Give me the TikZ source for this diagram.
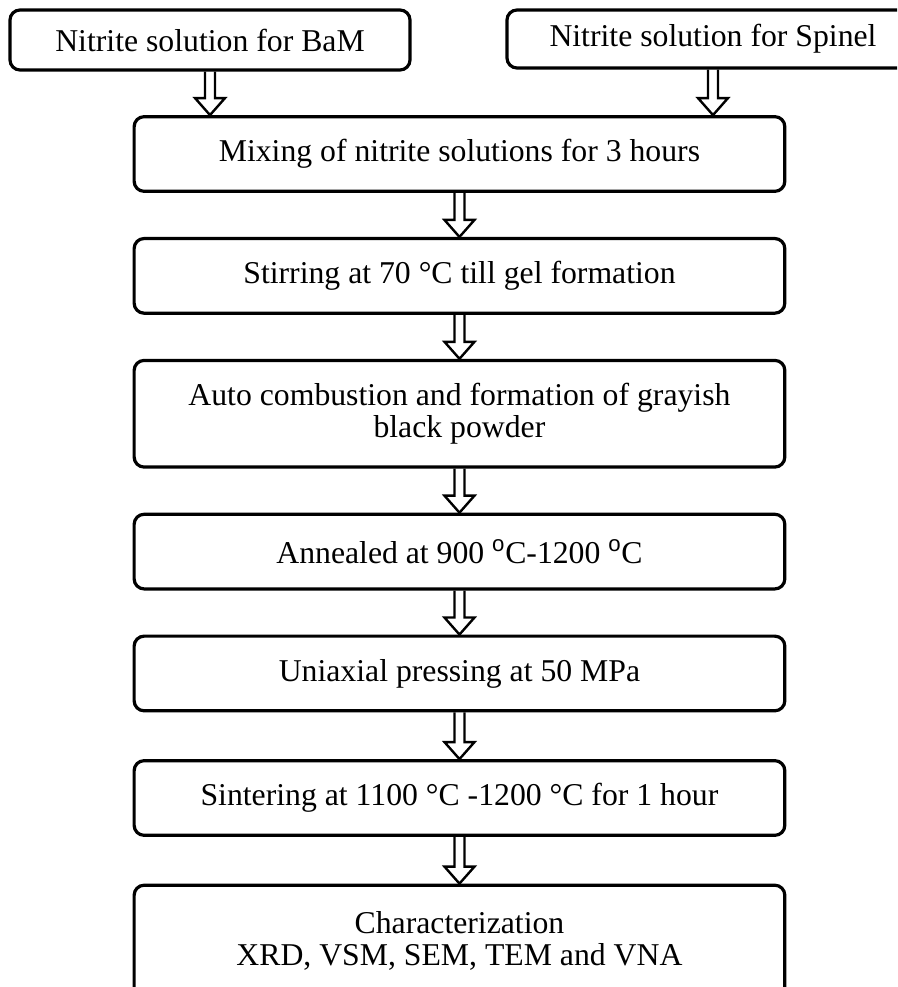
\documentclass[tikz,border=0pt]{standalone}
\usepackage{fontspec}
\setmainfont{Liberation Serif}
\setsansfont{Liberation Sans}
\usetikzlibrary{positioning,calc}

\newcommand{\degsup}{\textsuperscript{\sffamily o}}

\tikzset{
    stepbox/.style={draw, rounded corners=7.5pt, line width=2.4pt,
        minimum width=488pt, minimum height=56pt, inner sep=2pt,
        align=center, font=\fontsize{23.8}{24}\selectfont},
    flow/.style={line width=1.8pt, miter limit=20,
        to path={let \p1=(\tikztostart), \p2=(\tikztotarget) in
            (\x1-3.75pt,\y1) -- (\x1-3.75pt,\y2+12.75pt) -- (\x1-11.25pt,\y2+12.75pt)
            -- (\x1,\y2) -- (\x1+11.25pt,\y2+12.75pt) -- (\x1+3.75pt,\y2+12.75pt)
            -- (\x1+3.75pt,\y1)}}
}

\begin{document}
\begin{tikzpicture}
    \useasboundingbox (0,0) rectangle (672.75pt,-740.25pt);
    \clip (0,0) rectangle (672.75pt,-740.25pt);

    % le due soluzioni di partenza
    \node[stepbox, minimum width=300pt, minimum height=45pt] (bam) at (157.5pt,-30pt) {Nitrite solution for BaM};
    \node[stepbox, minimum width=309pt, minimum height=43.5pt] (spinel) at (534.75pt,-29.25pt) {Nitrite solution for Spinel};

    \node[stepbox] (mix) at (344.6pt,-115.5pt) {Mixing of nitrite solutions for 3 hours};
    \node[stepbox, below=33pt of mix] (stir) {Stirring at 70 °C till gel formation};
    \node[stepbox, below=33pt of stir, minimum height=80pt] (auto) {Auto combustion and formation of grayish\\black powder};
    \node[stepbox, below=33pt of auto] (anneal) {Annealed at 900 \degsup C-1200 \degsup C};
    \node[stepbox, below=33pt of anneal] (press) {Uniaxial pressing at 50 MPa};
    \node[stepbox, below=35pt of press] (sinter) {Sintering at 1100 °C -1200 °C for 1 hour};
    \node[stepbox, below=35pt of sinter, minimum height=84pt] (charac) {Characterization\\XRD, VSM, SEM, TEM and VNA};

    % frecce doppie
    \draw[flow] (bam.south) to (mix.north);
    \draw[flow] (spinel.south) to (mix.north);
    \draw[flow] (mix.south) to (stir.north);
    \draw[flow] (stir.south) to (auto.north);
    \draw[flow] (auto.south) to (anneal.north);
    \draw[flow] (anneal.south) to (press.north);
    \draw[flow] (press.south) to (sinter.north);
    \draw[flow] (sinter.south) to (charac.north);
\end{tikzpicture}
\end{document}
